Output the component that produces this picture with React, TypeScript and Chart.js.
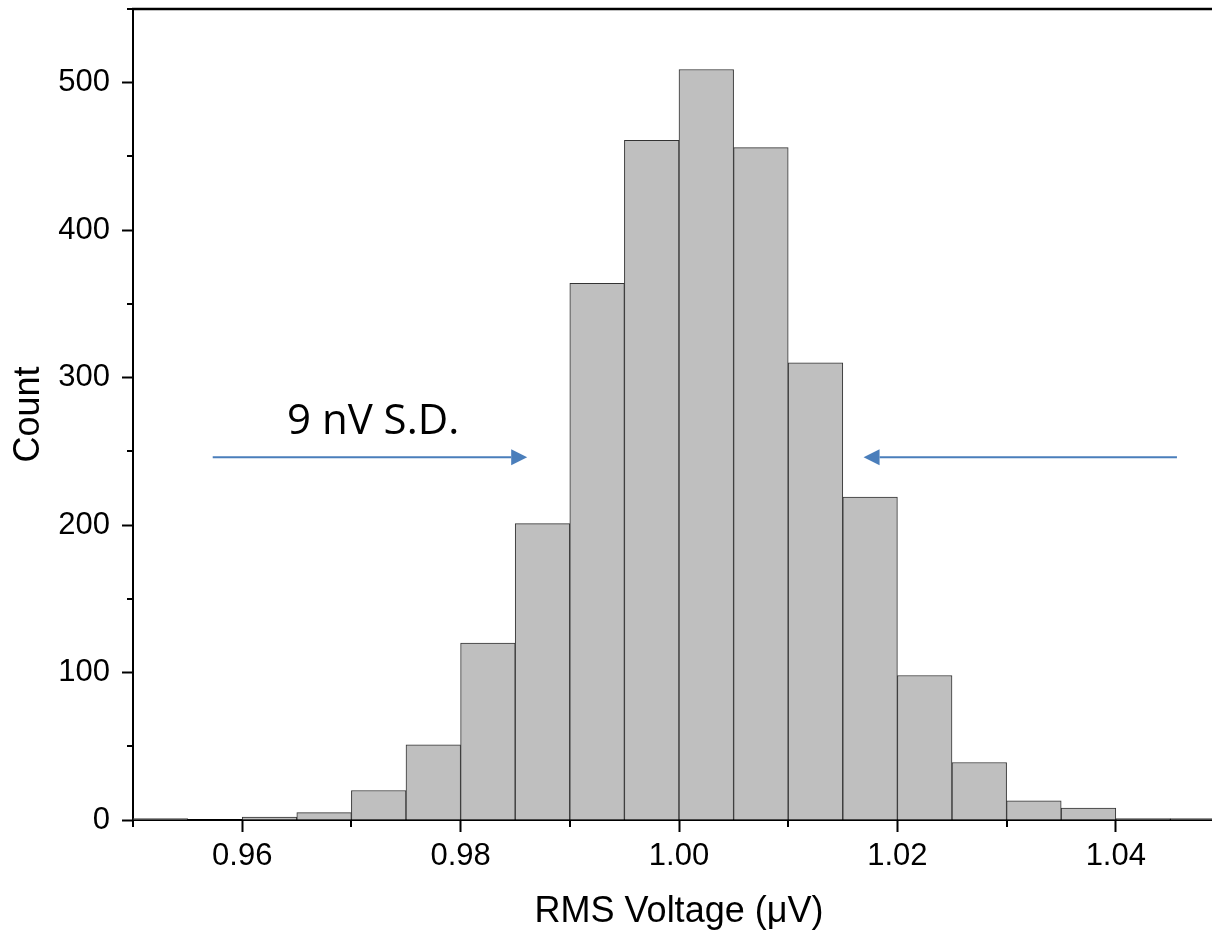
import React, { useEffect, useRef } from 'react';
import { Chart, registerables } from 'chart.js';

Chart.register(...registerables);

// ---- data ----
const binStarts = [
  0.950, 0.955, 0.960, 0.965, 0.970, 0.975, 0.980, 0.985, 0.990, 0.995,
  1.000, 1.005, 1.010, 1.015, 1.020, 1.025, 1.030, 1.035, 1.040, 1.045,
];
const counts = [1, 0, 2, 5, 20, 51, 120, 201, 364, 461, 509, 456, 310, 219, 98, 39, 13, 8, 1, 1];
const binWidth = 0.005;

const xTickValues = [0.96, 0.98, 1.0, 1.02, 1.04];
const xMinorValues = [0.95, 0.97, 0.99, 1.01, 1.03, 1.05];
const yTickValues = [0, 100, 200, 300, 400, 500];
const yMinorValues = [50, 150, 250, 350, 450, 550];

const xTitle = 'RMS Voltage (\u03bcV)';
const yTitle = 'Count';

const annotationText = '9 nV S.D.';
const annotationTextAt = [0.9641, 262]; // [x value, count] of text baseline start
const arrowRightFromTo = [0.9573, 0.9861]; // tail, tip
const arrowLeftFromTo = [1.0456, 1.0169]; // tail, tip
const arrowCount = 246;

const AXIS_FONT = "'Liberation Sans', Arial, sans-serif";

export default function App() {
  const canvasRef = useRef<HTMLCanvasElement | null>(null);

  useEffect(() => {
    const canvas = canvasRef.current;
    if (!canvas) return;

    const decorPlugin = {
      id: 'decor',
      afterDraw(chart: any) {
        const ctx = chart.ctx as CanvasRenderingContext2D;
        const xs = chart.scales.x;
        const ys = chart.scales.y;
        const area = chart.chartArea;
        ctx.save();
        // top border
        ctx.strokeStyle = '#000';
        ctx.lineWidth = 2.5;
        ctx.beginPath();
        ctx.moveTo(area.left - 1, area.top);
        ctx.lineTo(area.right, area.top);
        ctx.stroke();
        // minor ticks
        ctx.lineWidth = 2;
        ctx.beginPath();
        xMinorValues.forEach((v) => {
          const px = Math.round(xs.getPixelForValue(v));
          ctx.moveTo(px, area.bottom);
          ctx.lineTo(px, area.bottom + 7);
        });
        yMinorValues.forEach((v) => {
          const py = Math.round(ys.getPixelForValue(v));
          ctx.moveTo(area.left, py);
          ctx.lineTo(area.left - 6, py);
        });
        ctx.stroke();

        // arrows
        const blue = '#4a7ebb';
        const ay = ys.getPixelForValue(arrowCount);
        const drawArrow = (fromV: number, toV: number) => {
          const x0 = xs.getPixelForValue(fromV);
          const x1 = xs.getPixelForValue(toV);
          const dir = Math.sign(x1 - x0);
          const headLen = 16;
          const headHalf = 8;
          ctx.strokeStyle = blue;
          ctx.lineWidth = 2;
          ctx.beginPath();
          ctx.moveTo(x0, ay);
          ctx.lineTo(x1 - dir * headLen, ay);
          ctx.stroke();
          ctx.fillStyle = blue;
          ctx.beginPath();
          ctx.moveTo(x1, ay);
          ctx.lineTo(x1 - dir * headLen, ay - headHalf);
          ctx.lineTo(x1 - dir * headLen, ay + headHalf);
          ctx.closePath();
          ctx.fill();
        };
        drawArrow(arrowRightFromTo[0], arrowRightFromTo[1]);
        drawArrow(arrowLeftFromTo[0], arrowLeftFromTo[1]);

        // annotation text
        ctx.fillStyle = '#000';
        ctx.font = "42px 'Open Sans', sans-serif";
        ctx.textAlign = 'left';
        ctx.textBaseline = 'alphabetic';
        ctx.fillText(
          annotationText,
          xs.getPixelForValue(annotationTextAt[0]),
          ys.getPixelForValue(annotationTextAt[1])
        );
        ctx.restore();
      },
    };

    const chart = new Chart(canvas, {
      type: 'bar',
      data: {
        datasets: [
          {
            data: binStarts.map((s, i) => ({ x: s + binWidth / 2, y: counts[i] })),
            backgroundColor: '#bfbfbf',
            borderColor: '#333333',
            borderWidth: 1,
            borderSkipped: 'bottom',
            barPercentage: 1,
            categoryPercentage: 1,
          } as any,
        ],
      },
      options: {
        animation: false,
        responsive: false,
        events: [],
        layout: { padding: { top: 9, left: 0, right: 0, bottom: 0 } },
        plugins: { legend: { display: false }, tooltip: { enabled: false } },
        scales: {
          x: {
            type: 'linear',
            min: 0.95,
            max: 1.05,
            offset: false,
            afterBuildTicks: (s: any) => {
              s.ticks = xTickValues.map((v) => ({ value: v }));
            },
            afterFit: (s: any) => {
              s.height = 118;
              s.paddingLeft = 0;
              s.paddingRight = 0;
            },
            grid: {
              display: true,
              offset: false,
              drawOnChartArea: false,
              drawTicks: true,
              tickLength: 12,
              tickWidth: 2,
              tickColor: '#000',
            },
            border: { display: true, color: '#000', width: 2 },
            ticks: {
              color: '#000',
              font: { family: AXIS_FONT, size: 31 },
              padding: 6,
              maxRotation: 0,
              autoSkip: false,
              callback: (v: any) => Number(v).toFixed(2),
            },
            title: {
              display: true,
              text: xTitle,
              color: '#000',
              font: { family: AXIS_FONT, size: 36 },
              padding: { top: 0, bottom: 4 },
            },
          },
          y: {
            type: 'linear',
            min: 0,
            max: 550,
            afterBuildTicks: (s: any) => {
              s.ticks = yTickValues.map((v) => ({ value: v }));
            },
            afterFit: (s: any) => {
              s.width = 133;
              s.paddingTop = 0;
              s.paddingBottom = 0;
            },
            grid: {
              display: true,
              offset: false,
              drawOnChartArea: false,
              drawTicks: true,
              tickLength: 11,
              tickWidth: 2,
              tickColor: '#000',
            },
            border: { display: true, color: '#000', width: 2 },
            ticks: {
              color: '#000',
              font: { family: AXIS_FONT, size: 31 },
              padding: 12,
              autoSkip: false,
              callback: (v: any) => String(v),
            },
            title: {
              display: true,
              text: yTitle,
              color: '#000',
              font: { family: AXIS_FONT, size: 36 },
              padding: { top: 7, bottom: 0 },
            },
          },
        },
      },
      plugins: [decorPlugin],
    } as any);

    return () => chart.destroy();
  }, []);

  return (
    <div
      style={{
        position: 'absolute',
        left: 0,
        top: 0,
        width: 1212,
        height: 938,
        overflow: 'hidden',
        background: '#fff',
      }}
    >
      <canvas ref={canvasRef} width={1225} height={938} style={{ display: 'block' }} />
    </div>
  );
}
